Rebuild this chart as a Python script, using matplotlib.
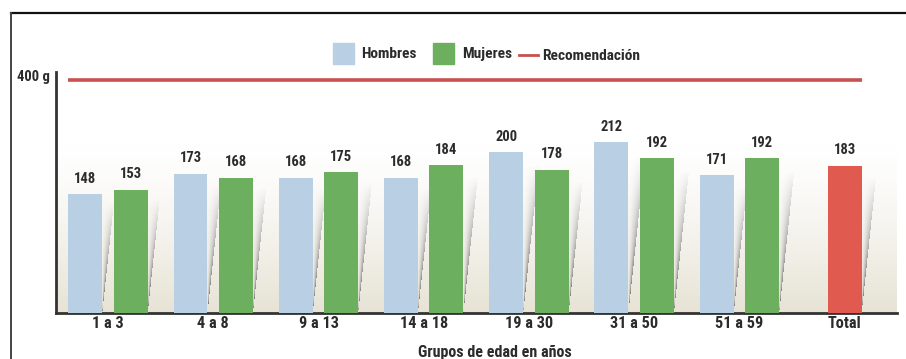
import numpy as np
import matplotlib
matplotlib.use("Agg")
import matplotlib.pyplot as plt
from matplotlib import font_manager as fm
from matplotlib.lines import Line2D
from matplotlib.patches import Rectangle

# consumo diario por grupo de edad (g)
grupos = ["1 a 3", "4 a 8", "9 a 13", "14 a 18", "19 a 30", "31 a 50", "51 a 59", "Total"]
hombres = [148, 173, 168, 168, 200, 212, 171]
mujeres = [153, 168, 175, 184, 178, 192, 192]
total = 183
recomendacion = 400

C_HOM = "#b9cfe4"
C_MUJ = "#6caf5e"
C_TOT = "#e05a4f"
C_REC = "#c8504f"
C_TXT = "#2b2b2b"

# prefer a narrow sans if one is around
names = {f.name for f in fm.fontManager.ttflist}
narrow = [n for n in ("Liberation Sans Narrow", "Roboto Condensed", "Open Sans Condensed")
          if n in names]
FONT = narrow[:1] + ["Liberation Sans", "DejaVu Sans"]
NARROW = bool(narrow)
plt.rcParams["font.family"] = FONT
SZ = 10.5 if NARROW else 9.5

# the recommendation sits far above the bars: keep bars linear and squeeze the gap above 240 g
T, K = 240.0, 0.309
def fwd(y):
    y = np.asarray(y, dtype=float)
    return np.where(y <= T, y, T + (y - T) * K)
def inv(y):
    y = np.asarray(y, dtype=float)
    return np.where(y <= T, y, T + (y - T) / K)

W, H = 906, 359
fig = plt.figure(figsize=(W / 100, H / 100), dpi=100)
pos = [56 / W, (H - 313) / H, (897 - 56) / W, (313 - 72) / H]

# background axes: gradient plus bar shadows, drawn as images
bg = fig.add_axes(pos, zorder=0)
bg.set_axis_off()
f = np.linspace(0, 1, 256)
t = np.clip((f - 0.3) / 0.7, 0, 1) ** 1.3
top_c = np.array([1.0, 1.0, 1.0])
bot_c = np.array([0.905, 0.89, 0.835])
grad = top_c[None, :] * (1 - t[:, None]) + bot_c[None, :] * t[:, None]
bg.imshow(grad[:, None, :], aspect="auto", extent=[0, 1, 0, 1])

ax = fig.add_axes(pos, zorder=1)
ax.patch.set_alpha(0)
ax.set_yscale("function", functions=(fwd, inv))
ax.set_xlim(-0.494, 7.497)
ax.set_ylim(0, 432)

x = np.arange(len(grupos))
bw = 0.323
off = 0.216

bars = []
for i, (h, m) in enumerate(zip(hombres, mujeres)):
    bars.append((x[i] - off, h, C_HOM))
    bars.append((x[i] + off, m, C_MUJ))
bars.append((x[-1], total, C_TOT))

# slanted grey wedge right of each bar, "/" edge darkest near the foot, fading upward
bb = ax.get_position().transformed(fig.transFigure)
nx, ny = int(round(bb.width)), int(round(bb.height))
cc, rr = np.meshgrid(np.arange(nx) + 0.5, np.arange(ny) + 0.5)
alpha = np.zeros((ny, nx))
for xc, v, c in bars:
    x0, y0 = ax.transData.transform((xc + bw / 2, 0))
    _, y1 = ax.transData.transform((xc + bw / 2, v * 0.92))
    x0 -= bb.x0
    hs = y1 - y0
    s = 0.106 * hs
    tt = rr / hs
    wid = np.maximum(s * tt, 1e-6)
    uu = (cc - x0) / wid
    inside = (tt <= 1) & (uu >= 0) & (uu <= 1)
    a = 0.75 * np.clip(uu, 0, 1) ** 1.6 * np.clip(1 - tt, 0, 1) ** 0.9
    alpha = np.maximum(alpha, np.where(inside, a, 0))
shade = np.zeros((ny, nx, 4))
shade[..., :3] = (0.27, 0.27, 0.32)
shade[..., 3] = alpha
bg.imshow(shade, aspect="auto", extent=[0, 1, 0, 1], origin="lower", interpolation="bilinear")
bg.set_xlim(0, 1)
bg.set_ylim(0, 1)

for xc, v, c in bars:
    ax.bar(xc, v, width=bw, color=c, zorder=2)
    ax.annotate(f"{v}", (xc, v), xytext=(0, 6), textcoords="offset points",
                ha="center", va="bottom", fontsize=SZ, fontweight="bold", color=C_TXT)

ax.plot([x[0] - off - bw / 2, x[-1] + bw / 2], [recomendacion, recomendacion],
        color=C_REC, lw=2.6, solid_capstyle="butt", zorder=3)

for s in ("top", "right"):
    ax.spines[s].set_visible(False)
ax.spines["left"].set_color("#333333")
ax.spines["left"].set_linewidth(2)
ax.spines["bottom"].set_color("#333333")
ax.spines["bottom"].set_linewidth(2)
ax.spines["bottom"].set_zorder(1.5)

ax.set_xticks(x)
ax.set_xticklabels(grupos, fontsize=SZ + 1.2, fontweight="bold", color=C_TXT)
ax.tick_params(axis="x", length=0, pad=2)
ax.set_yticks([])
ax.minorticks_off()
ax.tick_params(axis="y", which="both", length=0, labelleft=False)

fig.text(17 / W, 1 - 77 / H, "400 g", fontsize=SZ, fontweight="bold", color=C_TXT,
         ha="left", va="center")
fig.text(495 / W, 1 - 352 / H, "Grupos de edad en años", fontsize=SZ + 1, fontweight="bold",
         color=C_TXT, ha="center", va="center")

# legend row
ly = 1 - 54 / H
LS = SZ + 0.6
fig.patches.append(Rectangle((333 / W, 1 - 64 / H), 21 / W, 21 / H, transform=fig.transFigure,
                             color=C_HOM, figure=fig))
fig.text(361 / W, ly, "Hombres", fontsize=LS, fontweight="bold", color=C_TXT, va="center")
fig.patches.append(Rectangle((433 / W, 1 - 64 / H), 21 / W, 21 / H, transform=fig.transFigure,
                             color=C_MUJ, figure=fig))
fig.text(462 / W, ly, "Mujeres", fontsize=LS, fontweight="bold", color=C_TXT, va="center")
fig.lines.append(Line2D([519 / W, 538 / W], [1 - 55 / H] * 2, transform=fig.transFigure,
                        color=C_REC, lw=2, figure=fig))
fig.text(542 / W, 1 - 56 / H, "Recomendación", fontsize=LS, fontweight="bold", color=C_TXT,
         va="center")

# outer frame (top and left edges only)
fig.lines.append(Line2D([11 / W, 1], [1 - 13 / H] * 2, transform=fig.transFigure,
                        color="#111111", lw=1.6, figure=fig))
fig.lines.append(Line2D([11 / W, 11 / W], [0, 1 - 13 / H], transform=fig.transFigure,
                        color="#444444", lw=1.4, figure=fig))

fig.savefig("out.png", dpi=100)
